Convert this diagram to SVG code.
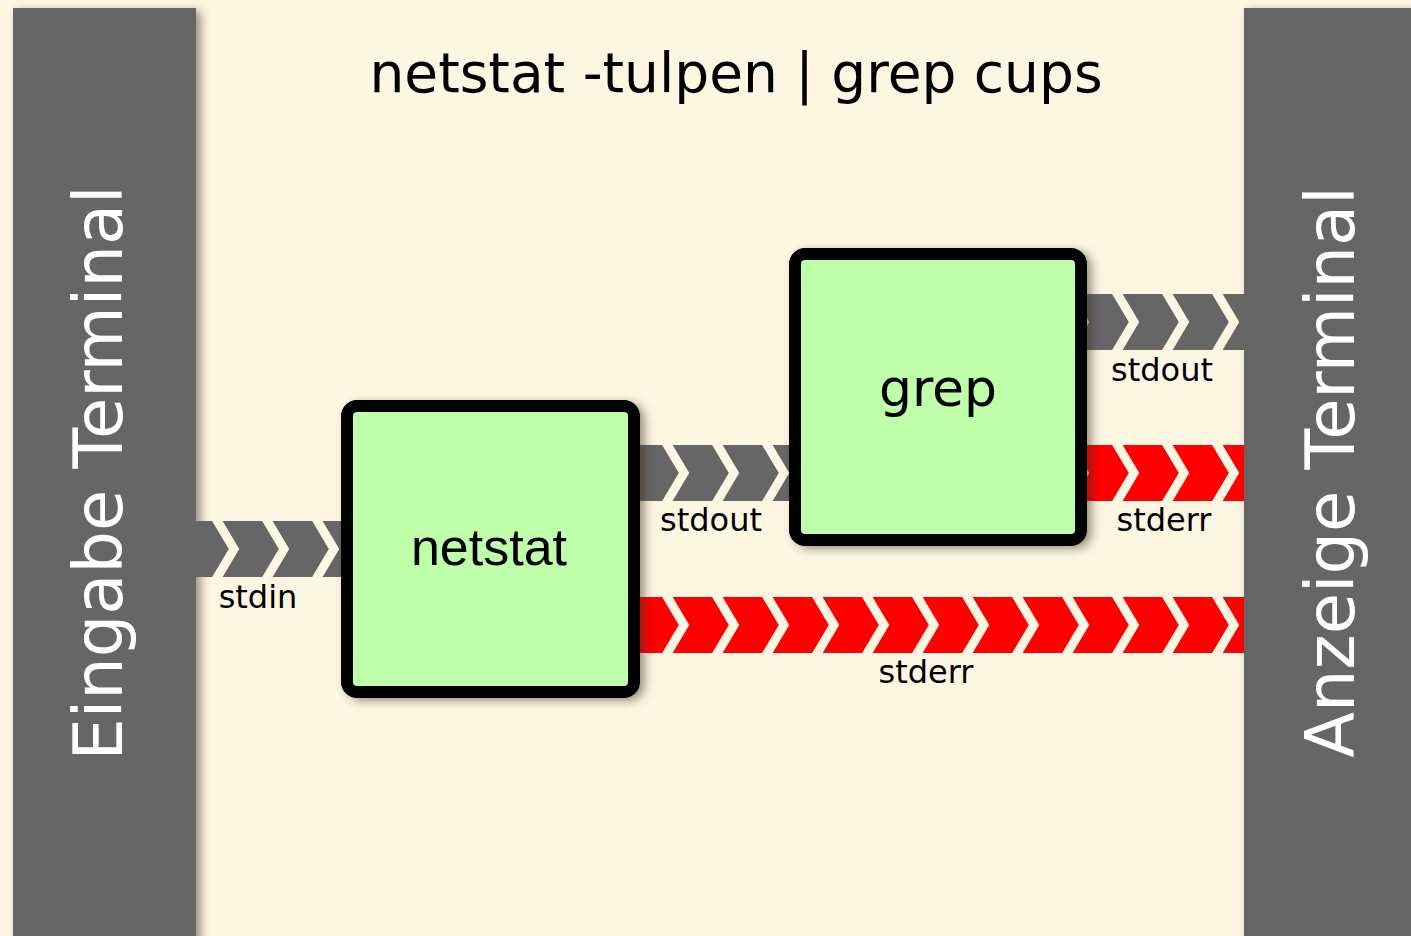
<svg xmlns="http://www.w3.org/2000/svg" width="1411" height="936" viewBox="0 0 1411 936">
<style>
.dv{font-family:"DejaVu Sans","Liberation Sans",sans-serif}
.lib{font-family:"Liberation Sans",Arial,sans-serif}
.panel{fill:#666666}
.box{fill:#c0ffaa;stroke:#000;stroke-width:12}
.lbl{font-size:32px;fill:#000;text-anchor:middle}
.gray{fill:#666666}
.red{fill:#ff0000}
</style>
<defs>
<filter id="sh" x="-20%" y="-20%" width="140%" height="140%">
<feDropShadow dx="5" dy="3" stdDeviation="5" flood-color="#3a3020" flood-opacity="0.5"/>
</filter>
<pattern id="chev" patternUnits="userSpaceOnUse" x="3" y="0" width="50" height="56">
<polyline points="12,-4 31,28 12,60" fill="none" stroke="#fdf6e3" stroke-width="9"/>
</pattern>
</defs>
<rect width="1411" height="936" fill="#fdf6e3"/>
<g id="eingabe">
<rect class="panel" x="13" y="8" width="183" height="940" filter="url(#sh)"/>
<text class="dv" transform="translate(122,473) rotate(-90)" font-size="67" fill="#fff" text-anchor="middle">Eingabe Terminal</text>
</g>
<g id="anzeige">
<rect class="panel" x="1244" y="8" width="180" height="940" filter="url(#sh)"/>
<text class="dv" transform="translate(1354,472) rotate(-90)" font-size="67" fill="#fff" text-anchor="middle">Anzeige Terminal</text>
</g>
<text id="title" class="dv" x="736" y="92" font-size="55" text-anchor="middle" fill="#000">netstat -tulpen | grep cups</text>
<g id="connectors">
<g transform="translate(0,521)"><rect class="gray" x="196" y="0" width="151" height="56"/><rect x="196" y="0" width="151" height="56" fill="url(#chev)"/></g>
<g transform="translate(0,445)"><rect class="gray" x="634" y="0" width="161" height="56"/><rect x="634" y="0" width="161" height="56" fill="url(#chev)"/></g>
<g transform="translate(0,597)"><rect class="red" x="634" y="0" width="610" height="56"/><rect x="634" y="0" width="610" height="56" fill="url(#chev)"/></g>
<g transform="translate(0,294)"><rect class="gray" x="1081" y="0" width="163" height="56"/><rect x="1081" y="0" width="163" height="56" fill="url(#chev)"/></g>
<g transform="translate(0,445)"><rect class="red" x="1081" y="0" width="163" height="56"/><rect x="1081" y="0" width="163" height="56" fill="url(#chev)"/></g>
<text class="dv lbl" x="258" y="608">stdin</text>
<text class="dv lbl" x="711" y="531">stdout</text>
<text class="dv lbl" x="926" y="683">stderr</text>
<text class="dv lbl" x="1162" y="381">stdout</text>
<text class="dv lbl" x="1164" y="531">stderr</text>
</g>
<g id="netstat">
<rect class="box" x="347" y="406" width="287" height="286" rx="10" filter="url(#sh)"/>
<text class="lib" x="489" y="565" font-size="52" text-anchor="middle" fill="#000">netstat</text>
</g>
<g id="grep">
<rect class="box" x="795" y="254" width="286" height="286" rx="10" filter="url(#sh)"/>
<text class="dv" x="938" y="406" font-size="52" text-anchor="middle" fill="#000">grep</text>
</g>
</svg>
